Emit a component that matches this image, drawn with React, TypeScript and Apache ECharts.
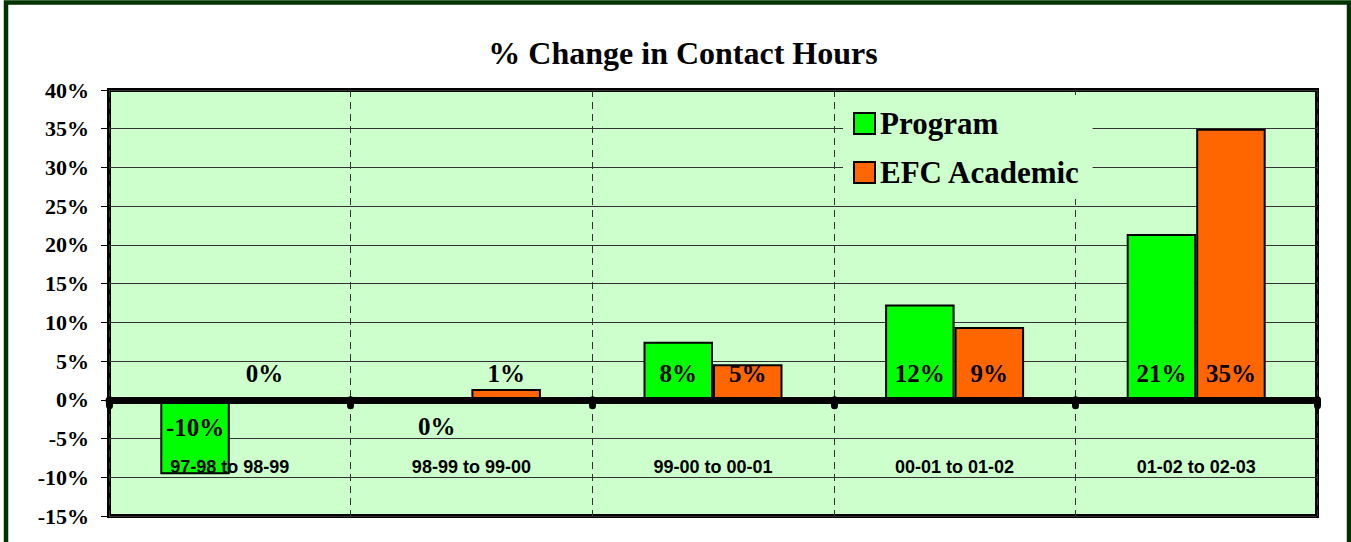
import React, { useEffect, useRef } from "react";
import * as echarts from "echarts";

const categories = [
  "97-98 to 98-99",
  "98-99 to 99-00",
  "99-00 to 00-01",
  "00-01 to 01-02",
  "01-02 to 02-03",
];
const programValues = [-9.6, -0.1, 7.5, 12.3, 21.4];
const efcValues = [0.1, 1.4, 4.6, 9.4, 35.0];
const seriesNames = ["Program", "EFC Academic"];
const seriesColors = ["#00FF00", "#FF6600"];
const yMin = -15;
const yMax = 40;
const yInterval = 5;

const SERIF = "'Liberation Serif', 'Times New Roman', serif";
const SANS = "'Liberation Sans', Arial, sans-serif";

const labelFor = (v: number) =>
  v < 0
    ? { position: "insideTop", distance: 15 }
    : { position: "insideBottom", distance: 14 };

export default function App() {
  const ref = useRef<HTMLDivElement>(null);

  useEffect(() => {
    if (!ref.current) return;
    const chart = echarts.init(ref.current, undefined, { renderer: "svg" });

    const makeSeries = (name: string, values: number[], color: string) => ({
      name,
      type: "bar",
      barWidth: 69.5,
      barGap: "0%",
      itemStyle: { color, borderColor: "#000", borderWidth: 2 },
      label: {
        show: true,
        color: "#000",
        fontFamily: SERIF,
        fontWeight: "bold",
        fontSize: 25,
        lineHeight: 25,
        formatter: (p: any) => `${Math.round(p.value)}%`,
      },
      data: values.map((v) => ({ value: v, label: labelFor(v) })),
    });

    chart.setOption({
      animation: false,
      backgroundColor: "#FFFFFF",
      title: {
        text: "% Change in Contact Hours",
        left: 678,
        textAlign: "center",
        top: 31,
        textStyle: {
          fontFamily: SERIF,
          fontWeight: "bold",
          fontSize: 32,
          lineHeight: 34,
          color: "#000",
        },
      },
      legend: {
        orient: "vertical",
        left: 843,
        top: 95,
        padding: [13, 12, 11, 10],
        backgroundColor: "#CCFFCC",
        itemWidth: 21,
        itemHeight: 21,
        itemGap: 18,
        icon: "rect",
        textStyle: {
          fontFamily: SERIF,
          fontWeight: "bold",
          fontSize: 31,
          lineHeight: 30,
          color: "#000",
        },
        data: seriesNames,
      },
      grid: {
        left: 109,
        right: 34,
        top: 90,
        bottom: 26,
        show: true,
        backgroundColor: "#CCFFCC",
        borderColor: "#000",
        borderWidth: 4,
        containLabel: false,
        outerBoundsMode: "none",
      },
      xAxis: {
        type: "category",
        data: categories,
        z: 3,
        axisLine: { show: true, onZero: true, lineStyle: { color: "#000", width: 7 } },
        axisTick: {
          show: true,
          length: 6,
          lineStyle: { color: "#000", width: 7, cap: "round" },
        },
        axisLabel: {
          inside: true,
          margin: 40,
          color: "#000",
          fontFamily: SANS,
          fontWeight: "bold",
          fontSize: 18,
          lineHeight: 18,
        },
        splitLine: {
          show: true,
          lineStyle: { color: "#333", width: 1, type: [7, 5] },
        },
      },
      yAxis: {
        type: "value",
        min: yMin,
        max: yMax,
        interval: yInterval,
        axisLine: { show: false },
        axisTick: { show: true, length: 8, lineStyle: { color: "#000", width: 1 } },
        axisLabel: {
          margin: 20,
          color: "#000",
          fontFamily: SERIF,
          fontWeight: "bold",
          fontSize: 22,
          formatter: "{value}%",
        },
        splitLine: { show: true, lineStyle: { color: "#333", width: 1 } },
      },
      graphic: [
        {
          type: "rect",
          silent: true,
          z: 100,
          shape: { x: 6, y: 2.5, width: 1343, height: 800 },
          style: { fill: "none", stroke: "#003300", lineWidth: 4.5 },
        },
      ],
      series: [
        makeSeries(seriesNames[0], programValues, seriesColors[0]),
        makeSeries(seriesNames[1], efcValues, seriesColors[1]),
      ],
    });

    return () => chart.dispose();
  }, []);

  return (
    <div
      ref={ref}
      style={{ position: "fixed", left: 0, top: 0, width: 1351, height: 542 }}
    />
  );
}
